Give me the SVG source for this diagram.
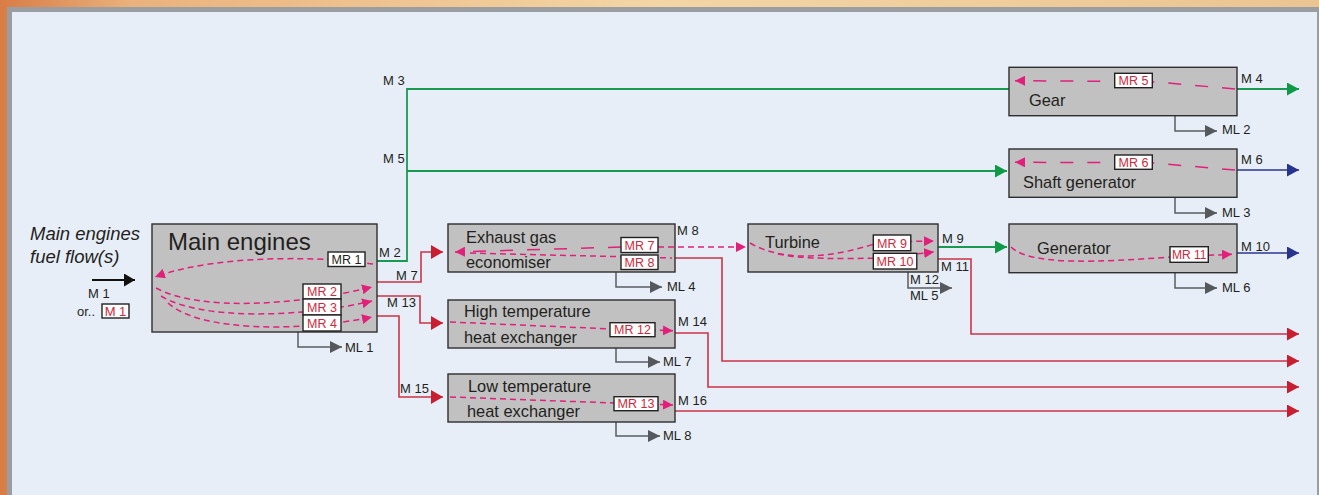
<svg xmlns="http://www.w3.org/2000/svg" width="1319" height="495" viewBox="0 0 1319 495">
<defs>
<linearGradient id="bg" x1="0" y1="0" x2="1" y2="0">
<stop offset="0" stop-color="#d97c45"/>
<stop offset="0.1" stop-color="#eab27c"/>
<stop offset="0.5" stop-color="#f3d6a6"/>
<stop offset="1" stop-color="#ebc493"/>
</linearGradient>
<marker id="aRed" markerUnits="userSpaceOnUse" markerWidth="12" markerHeight="14" refX="12" refY="7" orient="auto"><path d="M0,0 L12,7 L0,14 z" fill="#c81f30"/></marker>
<marker id="aRedS" markerUnits="userSpaceOnUse" markerWidth="12" markerHeight="13" refX="12" refY="6.5" orient="auto"><path d="M0,0 L12,6.5 L0,13 z" fill="#c81f30"/></marker>
<marker id="aGreen" markerUnits="userSpaceOnUse" markerWidth="12" markerHeight="13" refX="12" refY="6.5" orient="auto"><path d="M0,0 L12,6.5 L0,13 z" fill="#0f9a48"/></marker>
<marker id="aBlue" markerUnits="userSpaceOnUse" markerWidth="12" markerHeight="13" refX="12" refY="6.5" orient="auto"><path d="M0,0 L12,6.5 L0,13 z" fill="#26338f"/></marker>
<marker id="aGrey" markerUnits="userSpaceOnUse" markerWidth="12" markerHeight="12" refX="12" refY="6" orient="auto"><path d="M0,0 L12,6 L0,12 z" fill="#55585c"/></marker>
<marker id="aBlack" markerUnits="userSpaceOnUse" markerWidth="11" markerHeight="13" refX="11" refY="6.5" orient="auto"><path d="M0,0 L11,6.5 L0,13 z" fill="#111"/></marker>
<marker id="aPink" markerUnits="userSpaceOnUse" markerWidth="10" markerHeight="10" refX="10" refY="5" orient="auto"><path d="M0,0 L10,5 L0,10 z" fill="#e2207a"/></marker>
</defs>
<style>
text{font-family:"Liberation Sans",Arial,sans-serif;fill:#231f20}
.box{fill:#c1c1c1;stroke:#2e2e2e;stroke-width:1.4}
.mr{fill:#fff;stroke:#222;stroke-width:1.4}
.t{font-size:16.4px}
.lbl{font-size:13px}
.mrt{font-size:12.5px;fill:#d0283c;text-anchor:middle}
.red{fill:none;stroke:#cc3446;stroke-width:1.6}
.green{fill:none;stroke:#1a9a50;stroke-width:1.8}
.blue{fill:none;stroke:#2a3690;stroke-width:1.6}
.grey{fill:none;stroke:#5a5d61;stroke-width:1.5}
.pk{fill:none;stroke:#e2207a;stroke-width:1.5;stroke-dasharray:6 4}
.pkl{fill:none;stroke:#e2207a;stroke-width:1.5;stroke-dasharray:13 14}
</style>
<rect x="0" y="0" width="1319" height="495" fill="url(#bg)"/>
<rect x="7" y="7" width="1312" height="488" fill="#9a9da2"/>
<rect x="12" y="12" width="1305" height="483" fill="#e7eef8"/>

<g id="connectors">
<polyline class="green" points="377,261 407,261 407,89 1009,89"/>
<polyline class="green" points="407,171 1007,171" marker-end="url(#aGreen)"/>
<polyline class="green" points="1237,89 1299,89" marker-end="url(#aGreen)"/>
<polyline class="blue" points="1237,170 1299,170" marker-end="url(#aBlue)"/>
<polyline class="green" points="938,247 1007,247" marker-end="url(#aGreen)"/>
<polyline class="blue" points="1237,253 1299,253" marker-end="url(#aBlue)"/>
<polyline class="red" points="377,282 421,282 421,252 443,252" marker-end="url(#aRed)"/>
<polyline class="red" points="377,296 420,296 420,323 443,323" marker-end="url(#aRed)"/>
<polyline class="red" points="377,316 399,316 399,397 443,397" marker-end="url(#aRed)"/>
<polyline class="red" points="672,258 722,258 722,361 1299,361" marker-end="url(#aRedS)"/>
<polyline class="red" points="675,333 708,333 708,387 1299,387" marker-end="url(#aRedS)"/>
<polyline class="red" points="675,411 1299,411" marker-end="url(#aRedS)"/>
<polyline class="red" points="938,259 971,259 971,334 1299,334" marker-end="url(#aRedS)"/>
<polyline class="grey" points="298,332 298,347 342,347" marker-end="url(#aGrey)"/>
<polyline class="grey" points="616,272 616,287 662,287" marker-end="url(#aGrey)"/>
<polyline class="grey" points="616,348 616,362 660,362" marker-end="url(#aGrey)"/>
<polyline class="grey" points="616,422 616,436 660,436" marker-end="url(#aGrey)"/>
<polyline class="grey" points="908,272 908,288 952,288" marker-end="url(#aGrey)"/>
<polyline class="grey" points="1175,116 1175,131 1217,131" marker-end="url(#aGrey)"/>
<polyline class="grey" points="1175,197 1175,213 1217,213" marker-end="url(#aGrey)"/>
<polyline class="grey" points="1175,273 1175,288 1217,288" marker-end="url(#aGrey)"/>
<line x1="92" y1="280" x2="135" y2="280" stroke="#111" stroke-width="1.8" marker-end="url(#aBlack)"/>
</g>

<g id="fuel-input">
<text x="30" y="240" style="font-size:18.5px;font-style:italic">Main engines</text>
<text x="30" y="263" style="font-size:18.5px;font-style:italic">fuel flow(s)</text>
<text x="88" y="298" class="lbl">M 1</text>
<text x="77" y="316" class="lbl">or..</text>
<rect x="102" y="304" width="27" height="14" class="mr"/>
<text x="115.5" y="315.5" class="mrt" style="font-size:13px">M 1</text>
</g>

<g id="main-engines">
<rect x="152" y="224" width="225" height="108" class="box"/>
<text x="168" y="250" style="font-size:24px">Main engines</text>
<path class="pk" d="M373,264 C330,257 220,253 155,277" marker-end="url(#aPink)"/>
<path class="pk" d="M156,288 C200,312 300,305 372,287" marker-end="url(#aPink)"/>
<path class="pk" d="M161,296 C200,320 300,318 372,301" marker-end="url(#aPink)"/>
<path class="pk" d="M168,303 C200,332 300,332 372,317" marker-end="url(#aPink)"/>
<rect x="328" y="252" width="37" height="14.5" class="mr"/>
<text x="346.5" y="263.5" class="mrt" style="fill:#231f20">MR 1</text>
<rect x="303" y="284" width="38" height="15" class="mr"/>
<text x="322" y="296" class="mrt">MR 2</text>
<rect x="303" y="299" width="38" height="16" class="mr"/>
<text x="322" y="311.5" class="mrt">MR 3</text>
<rect x="303" y="315" width="38" height="16" class="mr"/>
<text x="322" y="327.5" class="mrt">MR 4</text>
</g>

<g id="exhaust-gas-economiser">
<rect x="448" y="224" width="227" height="48" class="box"/>
<text x="466" y="243" class="t">Exhaust gas</text>
<text x="466" y="268" class="t">economiser</text>
<path class="pk" d="M470,253 L672,258"/>
<path class="pkl" d="M621,247 L455,252" marker-end="url(#aPink)"/>
<path class="pk" d="M658,247 L746,247" marker-end="url(#aPink)"/>
<rect x="621" y="237.5" width="37" height="15" class="mr"/>
<text x="639.5" y="249.5" class="mrt">MR 7</text>
<rect x="621" y="255" width="37" height="14.5" class="mr"/>
<text x="639.5" y="267" class="mrt">MR 8</text>
</g>

<g id="high-temperature-heat-exchanger">
<rect x="448" y="300" width="227" height="48" class="box"/>
<text x="464" y="317" class="t">High temperature</text>
<text x="464" y="343" class="t">heat exchanger</text>
<path class="pk" d="M450,322 L612,329 L673,330.7" marker-end="url(#aPink)"/>
<rect x="610" y="322.7" width="45" height="14" class="mr"/>
<text x="632.5" y="334.3" class="mrt">MR 12</text>
</g>

<g id="low-temperature-heat-exchanger">
<rect x="448" y="374" width="227" height="48" class="box"/>
<text x="468" y="392" class="t">Low temperature</text>
<text x="467" y="417" class="t">heat exchanger</text>
<path class="pk" d="M450,397 L614,403 L673,405" marker-end="url(#aPink)"/>
<rect x="614" y="396.7" width="44" height="14" class="mr"/>
<text x="636" y="408.3" class="mrt">MR 13</text>
</g>

<g id="turbine">
<rect x="748" y="224" width="190" height="48" class="box"/>
<text x="765" y="248" class="t">Turbine</text>
<path class="pk" d="M750,243 C790,266 845,254 880,242 L934,241" marker-end="url(#aPink)"/>
<path class="pk" d="M778,254 C800,259 840,259 880,258 L934,252" marker-end="url(#aPink)"/>
<rect x="873.3" y="235" width="37.5" height="15.7" class="mr"/>
<text x="892" y="247.5" class="mrt">MR 9</text>
<rect x="873.3" y="253.3" width="43.5" height="15.7" class="mr"/>
<text x="895" y="265.8" class="mrt">MR 10</text>
</g>

<g id="gear">
<rect x="1009" y="67.3" width="228" height="48.4" class="box"/>
<text x="1029" y="106" class="t">Gear</text>
<path class="pkl" d="M1235,89 L1150,81.5 L1015,80.7" marker-end="url(#aPink)"/>
<rect x="1114.7" y="73.3" width="37.6" height="14.4" class="mr"/>
<text x="1133.5" y="85" class="mrt">MR 5</text>
</g>

<g id="shaft-generator">
<rect x="1009" y="149" width="228" height="48.3" class="box"/>
<text x="1023" y="188" class="t">Shaft generator</text>
<path class="pkl" d="M1235,170 L1150,162.7 L1015,162.3" marker-end="url(#aPink)"/>
<rect x="1114.7" y="155" width="37.6" height="14.3" class="mr"/>
<text x="1133.5" y="166.6" class="mrt">MR 6</text>
</g>

<g id="generator">
<rect x="1009" y="224" width="228" height="48.7" class="box"/>
<text x="1037" y="254" class="t">Generator</text>
<path class="pk" d="M1011,247 C1030,266 1100,262 1172,257 L1232,254.3" marker-end="url(#aPink)"/>
<rect x="1170" y="246.7" width="38.3" height="15.6" class="mr"/>
<text x="1189.2" y="259" class="mrt" style="font-size:12px">MR 11</text>
</g>

<g id="labels">
<text x="383" y="85" class="lbl">M 3</text>
<text x="383" y="163" class="lbl">M 5</text>
<text x="379" y="257" class="lbl">M 2</text>
<text x="396" y="280" class="lbl">M 7</text>
<text x="387" y="307" class="lbl">M 13</text>
<text x="400" y="393" class="lbl">M 15</text>
<text x="677" y="235" class="lbl">M 8</text>
<text x="678" y="326" class="lbl">M 14</text>
<text x="678" y="405" class="lbl">M 16</text>
<text x="942" y="243" class="lbl">M 9</text>
<text x="941" y="271" class="lbl">M 11</text>
<text x="910" y="284" class="lbl">M 12</text>
<text x="910" y="300" class="lbl">ML 5</text>
<text x="1241" y="83" class="lbl">M 4</text>
<text x="1241" y="164" class="lbl">M 6</text>
<text x="1241" y="251" class="lbl">M 10</text>
<text x="345" y="352" class="lbl">ML 1</text>
<text x="667" y="291" class="lbl">ML 4</text>
<text x="663" y="366" class="lbl">ML 7</text>
<text x="663" y="440" class="lbl">ML 8</text>
<text x="1222" y="134" class="lbl">ML 2</text>
<text x="1222" y="217" class="lbl">ML 3</text>
<text x="1222" y="292" class="lbl">ML 6</text>
</g>
</svg>
